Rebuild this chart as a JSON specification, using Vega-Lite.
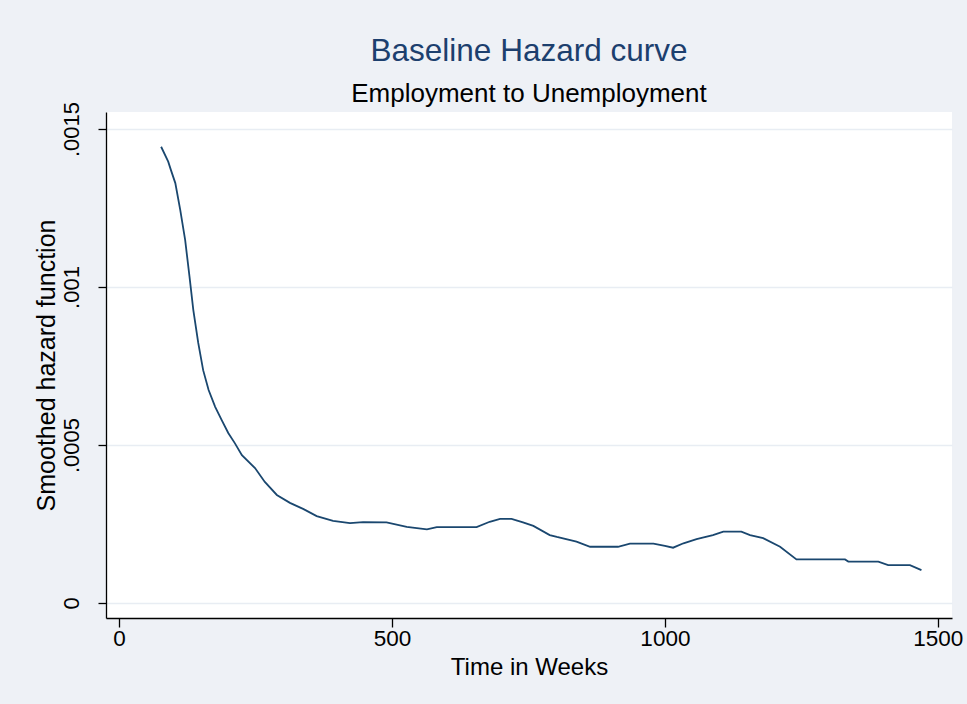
{
  "$schema": "https://vega.github.io/schema/vega-lite/v6.json",
  "autosize": "none",
  "width": 846,
  "height": 506,
  "padding": {"left": 106, "top": 112, "right": 15, "bottom": 86},
  "background": "#eef1f6",
  "config": {
    "font": "Liberation Sans",
    "view": {"fill": "white", "stroke": null}
  },
  "title": {
    "text": "Baseline Hazard curve",
    "subtitle": "Employment to Unemployment",
    "anchor": "middle",
    "frame": "group",
    "fontSize": 31.5,
    "fontWeight": "normal",
    "color": "#1c3f6e",
    "subtitleFontSize": 26,
    "subtitleColor": "#000000",
    "subtitlePadding": 13,
    "offset": -5
  },
  "data": {
    "values": [
      {"t": 77, "h": 0.001444},
      {"t": 90, "h": 0.001397},
      {"t": 95, "h": 0.00137},
      {"t": 103, "h": 0.001329},
      {"t": 112, "h": 0.001244},
      {"t": 121, "h": 0.001149},
      {"t": 129, "h": 0.001033},
      {"t": 136, "h": 0.000927},
      {"t": 145, "h": 0.000823},
      {"t": 154, "h": 0.000737},
      {"t": 164, "h": 0.000674},
      {"t": 176, "h": 0.000621},
      {"t": 188, "h": 0.000579},
      {"t": 200, "h": 0.000538},
      {"t": 212, "h": 0.000506},
      {"t": 225, "h": 0.000468},
      {"t": 249, "h": 0.000427},
      {"t": 267, "h": 0.000383},
      {"t": 289, "h": 0.000342},
      {"t": 313, "h": 0.000317},
      {"t": 338, "h": 0.000297},
      {"t": 362, "h": 0.000275},
      {"t": 392, "h": 0.00026},
      {"t": 423, "h": 0.000253},
      {"t": 447, "h": 0.000256},
      {"t": 490, "h": 0.000255},
      {"t": 527, "h": 0.000241},
      {"t": 564, "h": 0.000233},
      {"t": 582, "h": 0.00024},
      {"t": 655, "h": 0.00024},
      {"t": 679, "h": 0.000257},
      {"t": 698, "h": 0.000266},
      {"t": 719, "h": 0.000266},
      {"t": 740, "h": 0.000255},
      {"t": 759, "h": 0.000244},
      {"t": 789, "h": 0.000215},
      {"t": 802, "h": 0.000209},
      {"t": 838, "h": 0.000194},
      {"t": 863, "h": 0.000178},
      {"t": 914, "h": 0.000178},
      {"t": 936, "h": 0.000188},
      {"t": 979, "h": 0.000188},
      {"t": 1000, "h": 0.000181},
      {"t": 1015, "h": 0.000175},
      {"t": 1034, "h": 0.000189},
      {"t": 1058, "h": 0.000202},
      {"t": 1088, "h": 0.000215},
      {"t": 1107, "h": 0.000226},
      {"t": 1140, "h": 0.000226},
      {"t": 1156, "h": 0.000215},
      {"t": 1180, "h": 0.000205},
      {"t": 1211, "h": 0.000178},
      {"t": 1241, "h": 0.000138},
      {"t": 1330, "h": 0.000138},
      {"t": 1336, "h": 0.000131},
      {"t": 1391, "h": 0.000131},
      {"t": 1409, "h": 0.00012},
      {"t": 1449, "h": 0.00012},
      {"t": 1470, "h": 0.000104}
    ]
  },
  "mark": {"type": "line", "color": "#1a476f", "strokeWidth": 1.8, "clip": true},
  "encoding": {
    "x": {
      "field": "t",
      "type": "quantitative",
      "scale": {"domain": [-24, 1526], "nice": false, "zero": false},
      "axis": {
        "values": [0, 500, 1000, 1500],
        "format": "d",
        "title": "Time in Weeks",
        "titleFontSize": 24,
        "titleFontWeight": "normal",
        "titleColor": "#000000",
        "titlePadding": 6,
        "labelFontSize": 22.5,
        "labelColor": "#000000",
        "labelPadding": 0,
        "labelFlush": false,
        "labelOverlap": false,
        "tickSize": 9,
        "tickColor": "#000000",
        "tickWidth": 1.3,
        "domainColor": "#000000",
        "domainWidth": 1.3,
        "grid": false
      }
    },
    "y": {
      "field": "h",
      "type": "quantitative",
      "scale": {"domain": [-0.0000475, 0.001554], "nice": false, "zero": false},
      "axis": {
        "values": [0, 0.0005, 0.001, 0.0015],
        "labelExpr": "datum.value == 0 ? '0' : replace(toString(datum.value), '0.', '.')",
        "title": "Smoothed hazard function",
        "titleFontSize": 25,
        "titleFontWeight": "normal",
        "titleColor": "#000000",
        "titlePadding": 1,
        "labelFontSize": 22,
        "labelColor": "#000000",
        "labelAngle": -90,
        "labelAlign": "center",
        "labelBaseline": "bottom",
        "labelPadding": 15,
        "labelFlush": false,
        "labelOverlap": false,
        "tickSize": 8,
        "tickColor": "#000000",
        "tickWidth": 1.3,
        "domainColor": "#000000",
        "domainWidth": 1.3,
        "grid": true,
        "gridColor": "#e8edf3",
        "gridWidth": 1.5
      }
    }
  }
}
